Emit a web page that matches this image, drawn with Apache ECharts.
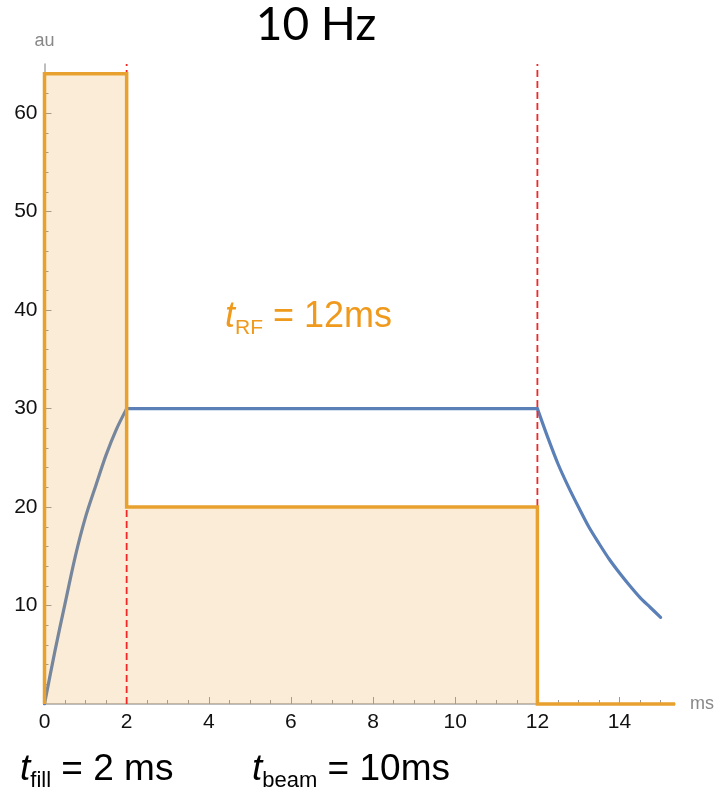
<!DOCTYPE html>
<html>
<head>
<meta charset="utf-8">
<script src="https://cdn.jsdelivr.net/npm/echarts@6/dist/echarts.min.js"></script>
<style>
  html, body { margin: 0; padding: 0; background: #fff; }
  #chart { width: 715px; height: 795px; }
</style>
</head>
<body>
<div id="chart"></div>
<script>
// RF drive power (orange step pulse), in au versus ms
const rfTimes = [0, 0, 2, 2, 12, 12, 15.35];
const rfPower = [0, 64, 64, 20, 20, 0, 0];

// Cavity field during the fill, flat-top and decay (blue)
const fillTimes = [0, 0.25, 0.5, 0.75, 1, 1.25, 1.5, 1.75, 2];
const fillField = [0, 5.3, 10.2, 15.0, 19.0, 22.2, 25.3, 27.9, 30];
const flatTimes = [2, 12];
const flatField = [30, 30];
const decayTimes = [12, 12.25, 12.5, 12.75, 13, 13.25, 13.5, 13.75, 14, 14.25, 14.5, 14.75, 15];
const decayField = [30, 27.1, 24.4, 22.1, 20.0, 18.0, 16.3, 14.7, 13.3, 12.0, 10.8, 9.8, 8.8];

// Dashed markers at end of fill and end of RF pulse
const markerTimes = [2, 12];

// Axis tick labels
const xTickLabels = [0, 2, 4, 6, 8, 10, 12, 14];
const yTickLabels = [10, 20, 30, 40, 50, 60];

const X_MAX = 15.35;
const Y_MAX = 65;

const zip = (xs, ys) => xs.map((x, i) => [x, ys[i]]);
const rfData = zip(rfTimes, rfPower);

const minorX = [];
for (let v = 0.5; v < X_MAX; v += 0.5) if (Math.abs(v % 2) > 1e-9) minorX.push(v);
const minorY = [];
for (let v = 2; v < Y_MAX; v += 2) if (v % 10 !== 0) minorY.push(v);

const axisGray = '#a8a8a8';
const tickGray = '#9a9a9a';
const labelFont = 'Liberation Sans, Arial, sans-serif';
const fieldBlue = '#5b80b8';

const chart = echarts.init(document.getElementById('chart'), null, { renderer: 'canvas' });

function fieldSeries(xs, ys, smooth) {
  return {
    type: 'line',
    data: zip(xs, ys),
    showSymbol: false,
    smooth: smooth ? 0.3 : false,
    z: 2,
    lineStyle: { color: fieldBlue, width: 3.2, cap: 'round' }
  };
}

const markerSeries = markerTimes.map(t => ({
  type: 'line',
  data: [[t, 0], [t, Y_MAX]],
  showSymbol: false,
  silent: true,
  z: 4,
  lineStyle: { color: '#f02828', width: 1.8, type: [7, 4] }
}));

function subLabel(x, y, main, sub, rest, color, size, subSize, subLift) {
  return {
    type: 'text', x: x, y: y,
    style: {
      text: '{t|' + main + '}{s|' + sub + '}{m|' + rest + '}',
      verticalAlign: 'middle',
      rich: {
        t: { fontSize: size, fontStyle: 'italic', fontFamily: labelFont, fill: color, lineHeight: 44 },
        s: { fontSize: subSize, fontFamily: labelFont, fill: color, lineHeight: subLift, verticalAlign: 'bottom' },
        m: { fontSize: size, fontFamily: labelFont, fill: color, lineHeight: 44 }
      }
    }
  };
}

chart.setOption({
  animation: false,
  backgroundColor: '#fff',
  grid: { left: 44.5, right: 40, top: 64, bottom: 91, outerBoundsMode: 'none', containLabel: false },
  xAxis: [{
    type: 'value', min: 0, max: X_MAX,
    name: 'ms', nameLocation: 'end', nameGap: 15,
    nameTextStyle: { color: '#888', fontSize: 18, fontFamily: labelFont },
    axisLine: { onZero: false, lineStyle: { color: axisGray, width: 1.5 } },
    axisTick: { inside: true, length: 7, customValues: xTickLabels, lineStyle: { color: tickGray, width: 1 } },
    axisLabel: { customValues: xTickLabels, color: '#111', fontSize: 21, margin: 8, fontFamily: labelFont },
    splitLine: { show: false }
  }, {
    type: 'value', min: 0, max: X_MAX, position: 'bottom',
    axisLine: { show: false },
    axisTick: { inside: true, length: 4, customValues: minorX, lineStyle: { color: tickGray, width: 1 } },
    axisLabel: { show: false },
    splitLine: { show: false }
  }],
  yAxis: [{
    type: 'value', min: 0, max: Y_MAX,
    name: 'au', nameLocation: 'end', nameGap: 14,
    nameTextStyle: { color: '#888', fontSize: 18, fontFamily: labelFont, align: 'center' },
    axisLine: { onZero: false, lineStyle: { color: axisGray, width: 1.5 } },
    axisTick: { inside: true, length: 7, customValues: yTickLabels, lineStyle: { color: tickGray, width: 1 } },
    axisLabel: { customValues: yTickLabels, color: '#111', fontSize: 21, margin: 7, fontFamily: labelFont },
    splitLine: { show: false }
  }, {
    type: 'value', min: 0, max: Y_MAX, position: 'left',
    axisLine: { show: false },
    axisTick: { inside: true, length: 4, customValues: minorY, lineStyle: { color: tickGray, width: 1 } },
    axisLabel: { show: false },
    splitLine: { show: false }
  }],
  series: [
    fieldSeries(fillTimes, fillField, true),
    fieldSeries(flatTimes, flatField, false),
    fieldSeries(decayTimes, decayField, true),
    {
      type: 'line',
      name: 'rf-area',
      data: rfData,
      showSymbol: false,
      z: 3,
      lineStyle: { width: 0 },
      areaStyle: { color: 'rgba(232,160,48,0.2)', opacity: 1 }
    }
  ].concat(markerSeries).concat([{
    type: 'line',
    name: 'rf',
    data: rfData,
    showSymbol: false,
    clip: false,
    z: 5,
    lineStyle: { color: '#e8a12e', width: 3.5, join: 'miter' }
  }]),
  graphic: [
    {
      type: 'text', x: 316, y: 25,
      style: { text: '10 Hz', font: '46px Lato, "Open Sans", sans-serif', fill: '#000', align: 'center', verticalAlign: 'middle' }
    },
    subLabel(225, 317, 't', 'RF', ' = 12ms', '#ef9a1c', 36, 21, 11),
    subLabel(20, 770, 't', 'fill', ' = 2 ms', '#000', 37, 22, 10),
    subLabel(252, 770, 't', 'beam', ' = 10ms', '#000', 37, 22, 10)
  ]
});
</script>
</body>
</html>
